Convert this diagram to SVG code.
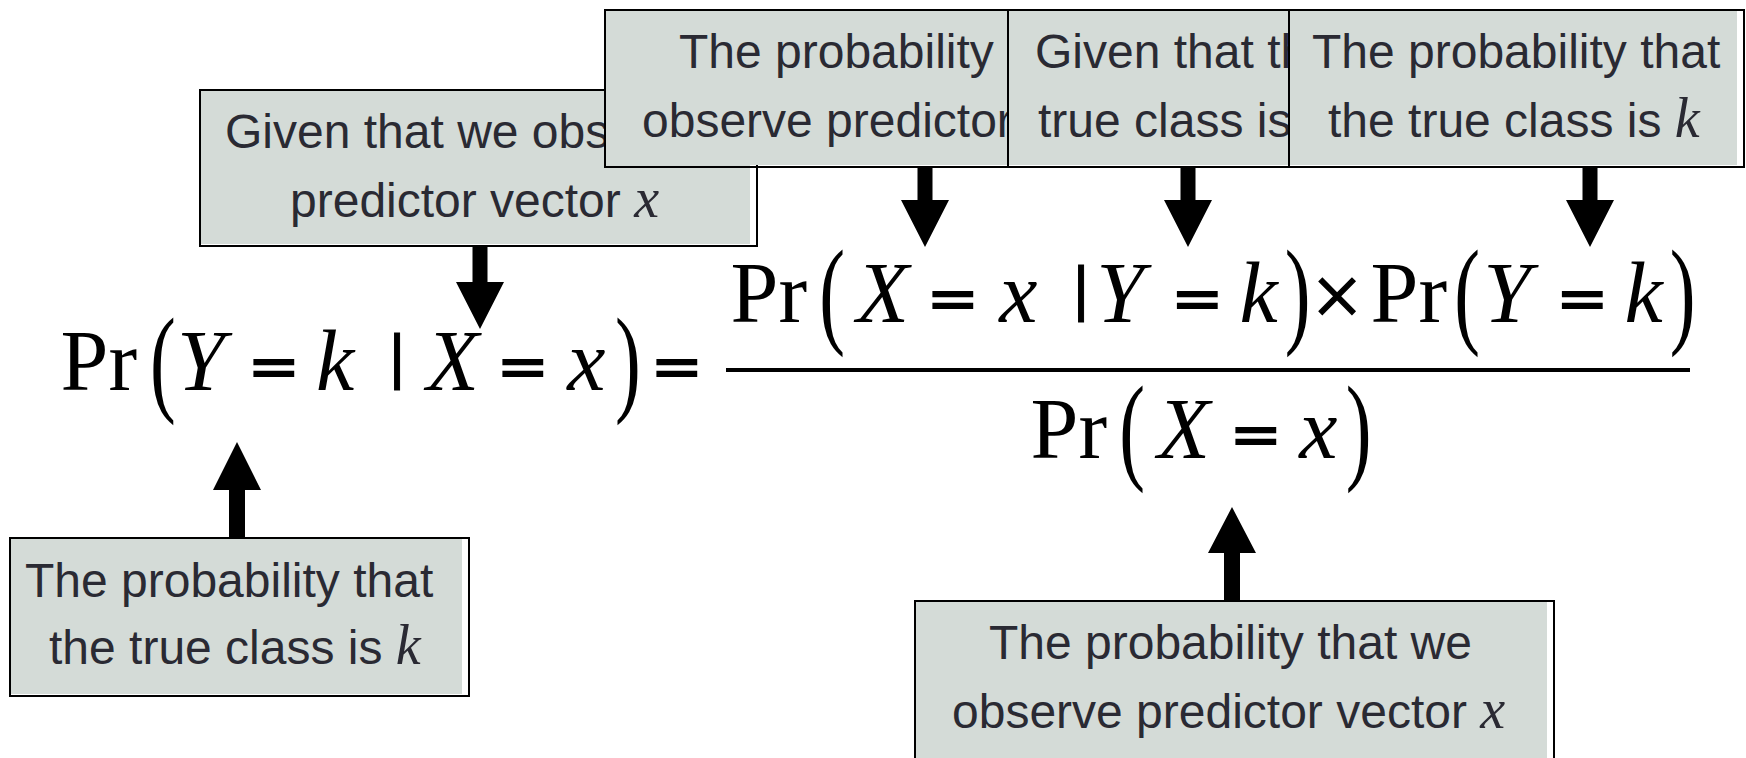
<svg xmlns="http://www.w3.org/2000/svg" width="1746" height="758" viewBox="0 0 1746 758">
<style>
.bf{fill:#d4dbd7}
.bb{fill:none;stroke:#000;stroke-width:2}
.lbl{font-family:"Liberation Sans",Arial,sans-serif;font-size:48px;fill:#2a2a33}
.var{font-family:"Liberation Serif","Times New Roman",serif;font-style:italic;font-size:56px}
.m{font-family:"Liberation Serif","Times New Roman",serif;font-size:86px;fill:#000}
.mi{font-style:italic}
.eq{font-weight:bold;text-anchor:middle;stroke:#000;stroke-width:3}
.bar{font-family:"Liberation Sans",Arial,sans-serif;font-size:62px;fill:#000;stroke:#000;stroke-width:1}
.times{font-size:88px;text-anchor:middle;stroke:#000;stroke-width:1.5}
.arrow{fill:#000}
</style>
<rect width="1746" height="758" fill="#fff"/>

<g id="box-a">
<rect class="bf" x="200" y="90" width="550" height="154"/>
<rect class="bb" x="200" y="90" width="557" height="156"/>
<text class="lbl" x="225" y="148">Given that we obs</text>
<text class="lbl" x="290" y="217">predictor vector <tspan class="var">x</tspan></text>
</g>

<g id="box-b">
<rect class="bf" x="605" y="10" width="403" height="155"/>
<rect class="bb" x="605" y="10" width="403" height="157"/>
<text class="lbl" x="679" y="68">The probability t</text>
<text class="lbl" x="642" y="137">observe predictor</text>
</g>

<g id="box-c">
<rect class="bf" x="1008" y="10" width="281" height="155"/>
<rect class="bb" x="1008" y="10" width="281" height="157"/>
<text class="lbl" x="1035" y="68">Given that th</text>
<text class="lbl" x="1038" y="137">true class is</text>
</g>

<g id="box-d">
<rect class="bf" x="1289" y="10" width="448" height="155"/>
<rect class="bb" x="1289" y="10" width="455" height="157"/>
<text class="lbl" x="1312" y="68">The probability that</text>
<text class="lbl" x="1328" y="137">the true class is <tspan class="var">k</tspan></text>
</g>

<g id="box-e">
<rect class="bf" x="10" y="538" width="452" height="156"/>
<rect class="bb" x="10" y="538" width="459" height="158"/>
<text class="lbl" x="25" y="597">The probability that</text>
<text class="lbl" x="49" y="664">the true class is <tspan class="var">k</tspan></text>
</g>

<g id="box-f">
<rect class="bf" x="915" y="601" width="632" height="160"/>
<rect class="bb" x="915" y="601" width="639" height="162"/>
<text class="lbl" x="989" y="659">The probability that we</text>
<text class="lbl" x="952" y="728">observe predictor vector <tspan class="var">x</tspan></text>
</g>

<g id="connectors">
<polygon class="arrow" points="472.5,246 487.5,246 487.5,282 504,282 480,329 456,282 472.5,282"/>
<polygon class="arrow" points="917.5,167 932.5,167 932.5,200 949,200 925,247 901,200 917.5,200"/>
<polygon class="arrow" points="1180.5,167 1195.5,167 1195.5,200 1212,200 1188,247 1164,200 1180.5,200"/>
<polygon class="arrow" points="1582.5,167 1597.5,167 1597.5,200 1614,200 1590,247 1566,200 1582.5,200"/>
<polygon class="arrow" points="229,538 245,538 245,490 261,490 237,442 213,490 229,490"/>
<polygon class="arrow" points="1224,601 1240,601 1240,553 1256,553 1232,507 1208,553 1224,553"/>
</g>

<g id="equation">
<!-- left side -->
<text class="m" x="60.6" y="390">Pr</text>
<text class="m" transform="translate(150,399.6) scale(0.9,1.37)">(</text>
<text class="m mi" x="177" y="390">Y</text>
<text class="m eq" transform="translate(274,387) scale(0.95,0.7)">=</text>
<text class="m mi" x="316" y="390">k</text>
<text class="bar" x="389" y="377">|</text>
<text class="m mi" x="426.4" y="390">X</text>
<text class="m eq" transform="translate(523,387) scale(0.95,0.7)">=</text>
<text class="m mi" x="567.3" y="390">x</text>
<text class="m" transform="translate(615,399.6) scale(0.9,1.37)">)</text>
<text class="m eq" transform="translate(677,387) scale(0.95,0.7)">=</text>

<!-- numerator -->
<text class="m" x="730.6" y="322">Pr</text>
<text class="m" transform="translate(819.3,331.6) scale(0.9,1.37)">(</text>
<text class="m mi" x="856.4" y="322">X</text>
<text class="m eq" transform="translate(953,319) scale(0.95,0.7)">=</text>
<text class="m mi" x="999.3" y="322">x</text>
<text class="bar" x="1073" y="309">|</text>
<text class="m mi" x="1096.3" y="322">Y</text>
<text class="m eq" transform="translate(1197.5,319) scale(0.95,0.7)">=</text>
<text class="m mi" x="1239.4" y="322">k</text>
<text class="m" transform="translate(1284.8,331.6) scale(0.9,1.37)">)</text>
<text class="m times" x="1337" y="325.5">×</text>
<text class="m" x="1370.6" y="322">Pr</text>
<text class="m" transform="translate(1454.3,331.6) scale(0.9,1.37)">(</text>
<text class="m mi" x="1483.3" y="322">Y</text>
<text class="m eq" transform="translate(1582.5,319) scale(0.95,0.7)">=</text>
<text class="m mi" x="1624.4" y="322">k</text>
<text class="m" transform="translate(1669.8,331.6) scale(0.9,1.37)">)</text>

<!-- fraction bar -->
<rect x="726" y="368" width="964" height="4" fill="#000"/>

<!-- denominator -->
<text class="m" x="1030.6" y="458">Pr</text>
<text class="m" transform="translate(1119.3,467.6) scale(0.9,1.37)">(</text>
<text class="m mi" x="1157.4" y="458">X</text>
<text class="m eq" transform="translate(1256,455) scale(0.95,0.7)">=</text>
<text class="m mi" x="1299.3" y="458">x</text>
<text class="m" transform="translate(1345.8,467.6) scale(0.9,1.37)">)</text>
</g>
</svg>
